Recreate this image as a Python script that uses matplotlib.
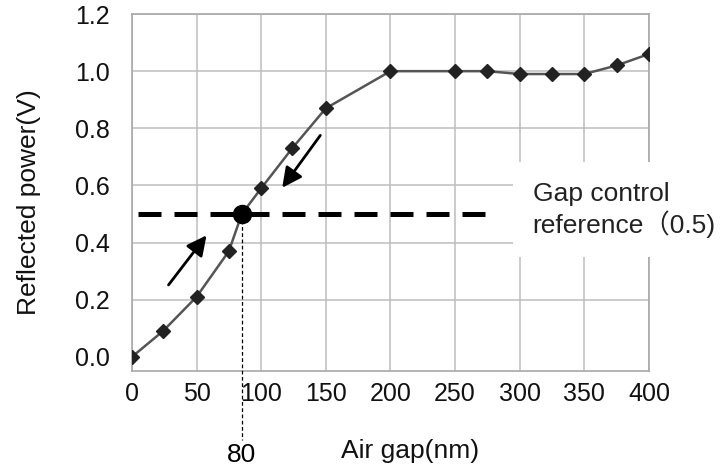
import matplotlib.pyplot as plt

# Reflected power vs air gap
gap_nm = [0, 24, 50, 75, 85, 100, 124, 150, 200, 250, 275, 300, 325, 350, 375, 400]
power_v = [0.0, 0.09, 0.21, 0.37, 0.50, 0.59, 0.73, 0.87, 1.0, 1.0, 1.0, 0.99, 0.99, 0.99, 1.02, 1.06]

ref_level = 0.5
ref_gap = 85
ref_gap_label = "80"
x_ticks = [0, 50, 100, 150, 200, 250, 300, 350, 400]
y_ticks = [0.0, 0.2, 0.4, 0.6, 0.8, 1.0, 1.2]

plt.rcParams["font.family"] = ["Liberation Sans", "Noto Sans CJK JP", "DejaVu Sans"]

fig = plt.figure(figsize=(7.21, 4.68), dpi=100)
ax = fig.add_axes([0.183, 0.207, 0.717, 0.763])

ax.plot(gap_nm, power_v, color="#555555", lw=1.8, marker="D", ms=7,
        markerfacecolor="#222222", markeredgecolor="#222222", zorder=3)

# gap control reference
ax.plot([5, 277], [ref_level, ref_level], color="black", lw=3.6,
        linestyle=(0, (4.6, 2.6)), solid_capstyle="butt", zorder=4)
ax.plot([ref_gap], [ref_level], "o", color="black", ms=13, zorder=5)
ax.plot([ref_gap, ref_gap], [ref_level, -0.29], color="black", lw=0.9,
        linestyle=(0, (3, 2)), clip_on=False, zorder=4)
ax.text(ref_gap, -0.345, ref_gap_label, ha="center", va="center", fontsize=19,
        clip_on=False)

ax.text(310, 0.515, "Gap control\nreference（0.5)", ha="left", va="center",
        fontsize=19, linespacing=1.2, color="#222222", zorder=6,
        bbox=dict(facecolor="white", edgecolor="none", pad=14))

# arrows
ax.annotate("", xy=(59, 0.433), xytext=(27, 0.244),
            arrowprops=dict(arrowstyle="-|>", color="black", lw=2, mutation_scale=30))
ax.annotate("", xy=(115, 0.584), xytext=(147, 0.783),
            arrowprops=dict(arrowstyle="-|>", color="black", lw=2, mutation_scale=30))

ax.set_xlim(0, 400)
ax.set_ylim(-0.05, 1.2)
ax.set_xticks(x_ticks)
ax.set_yticks(y_ticks)
ax.set_yticklabels([f"{v:.1f}" for v in y_ticks])
ax.tick_params(length=0, labelsize=18, colors="#111111")
ax.tick_params(axis="y", pad=16)
ax.tick_params(axis="x", pad=8)

ax.grid(True, color="#bdbdbd", lw=1.1)
ax.yaxis.get_gridlines()[0].set_visible(False)
for s in ax.spines.values():
    s.set_color("#a8a8a8")
    s.set_linewidth(1.2)

ax.set_xlabel("Air gap(nm)", fontsize=19, color="#111111")
ax.xaxis.set_label_coords(0.538, -0.19)
ax.set_ylabel("Reflected power(V)", fontsize=19, color="#111111")
ax.yaxis.set_label_coords(-0.175, 0.473)

fig.savefig("out.png", dpi=100)
